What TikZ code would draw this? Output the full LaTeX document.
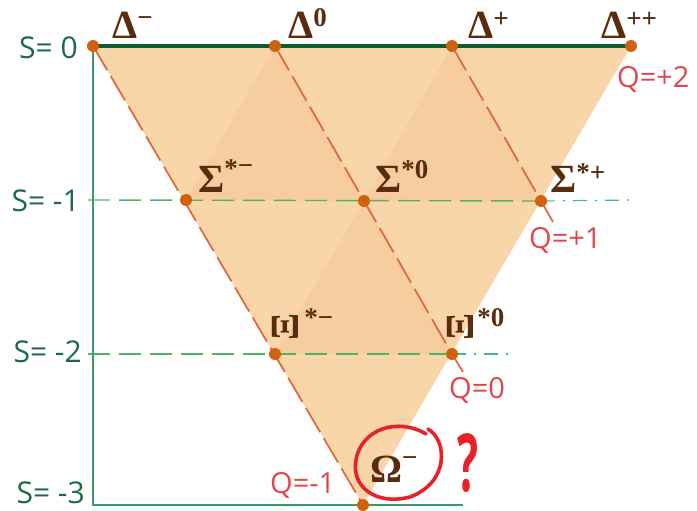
\documentclass[tikz,border=0pt]{standalone}
\usepackage{fontspec}
\setmainfont{Open Sans}
\newfontfamily\grkfont{Liberation Serif}
\usetikzlibrary{backgrounds}
\definecolor{fillA}{HTML}{F8D6A9}
\definecolor{fillB}{HTML}{F5CD9E}
\definecolor{dotc}{HTML}{D1600F}
\definecolor{qlinec}{HTML}{E06A3E}
\definecolor{brownc}{HTML}{5A2B0C}
\definecolor{qred}{HTML}{E0464C}
\definecolor{sgreenD}{HTML}{1D6A45}
\definecolor{topg}{HTML}{0D5E2F}
\definecolor{axisg}{HTML}{3A9C68}
\definecolor{dashg}{HTML}{55B06E}
\definecolor{tealg}{HTML}{45B59A}
\definecolor{circred}{HTML}{E62129}
\newcommand\hsup[2]{\raisebox{#1}{\fontsize{27}{27}\selectfont #2}}
\newcommand\rotXi{{\fontsize{40}{40}\selectfont\rotatebox{90}{Ξ}}}
\begin{document}
\begin{tikzpicture}[x=1pt,y=-1pt,
  pdot/.style={circle, fill=dotc, inner sep=0pt, minimum size=12pt},
  qline/.style={draw=qlinec, line width=1.8pt, dash pattern=on 28pt off 7pt},
  sline/.style={draw=dashg, line width=1.4pt, dash pattern=on 22pt off 9pt},
  tline/.style={draw=tealg, line width=1.2pt, dash pattern=on 14pt off 8pt on 2pt off 8pt},
  axisline/.style={draw=axisg, line width=1.4pt},
  topline/.style={draw=topg, line width=4.5pt},
  glabel/.style={font=\grkfont\bfseries\fontsize{40}{40}\selectfont, text=brownc, anchor=base west, inner sep=0pt},
  slabel/.style={font=\fontsize{30}{30}\selectfont, text=sgreenD, anchor=east, inner sep=0pt},
  qlabel/.style={font=\fontsize{29}{29}\selectfont, text=qred, anchor=west, inner sep=0pt}]
\path[use as bounding box] (0,0) rectangle (697,511);
% particle dots
\node[pdot] (Dm)  at (93,46) {};
\node[pdot] (D0)  at (275,46) {};
\node[pdot] (Dp)  at (452,46) {};
\node[pdot] (Dpp) at (631,46) {};
\node[pdot] (Sm)  at (186,200) {};
\node[pdot] (S0)  at (364,201) {};
\node[pdot] (Sp)  at (541,201) {};
\node[pdot] (Xm)  at (275,354) {};
\node[pdot] (X0)  at (452,354) {};
\node[pdot] (Om)  at (363,505) {};
% free ends
\coordinate (s1a) at (88,200);
\coordinate (s1b) at (635,200);
\coordinate (s2a) at (88,354);
\coordinate (s2b) at (515,354);
\coordinate (ax) at (93,505);
\coordinate (s3b) at (463,505);
\coordinate (q0e) at (463,372);
\coordinate (q1e) at (553,222);
\begin{scope}[on background layer]
  \fill[fillA] (Dm.center) -- (Dpp.center) -- (Om.center) -- cycle;
  \fill[fillB] (D0.center) -- (S0.center) -- (Sm.center) -- cycle;
  \fill[fillB] (Dp.center) -- (Sp.center) -- (S0.center) -- cycle;
  \fill[fillB] (S0.center) -- (X0.center) -- (Xm.center) -- cycle;
  \draw[sline] (s1a) -- (Sp.center);
  \draw[tline] (Sp.center) -- (s1b);
  \draw[sline] (s2a) -- (X0.center);
  \draw[tline] (X0.center) -- (s2b);
  \draw[axisline] (Dm.center) -- (ax) -- (s3b);
  \draw[topline] (Dm.center) -- (Dpp.center);
  \draw[qline] (Dm.center) -- (Om.center);
  \draw[qline] (D0.center) -- (X0.center) -- (q0e);
  \draw[qline] (Dp.center) -- (Sp.center) -- (q1e);
\end{scope}
% particle labels
\node[glabel] (lDm)  at (112,39) {Δ\hsup{12pt}{−}};
\node[glabel] (lD0)  at (288,39) {Δ\hsup{12pt}{0}};
\node[glabel] (lDp)  at (468,39) {Δ\hsup{11pt}{+}};
\node[glabel] (lDpp) at (601,39) {Δ\hsup{11pt}{++}};
\node[glabel] (lSm)  at (198,192) {Σ\hsup{14pt}{*\raisebox{4pt}{−}}};
\node[glabel] (lS0)  at (375,193) {Σ\hsup{14pt}{*0}};
\node[glabel] (lSp)  at (550,193) {Σ\hsup{12pt}{*+}};
\node[glabel] (lXm)  at (272,340) {\rotXi\hspace{6pt}\hsup{14pt}{*−}};
\node[glabel] (lX0)  at (447,340) {\rotXi\hspace{4pt}\hsup{14pt}{*0}};
\node[glabel] (lOm)  at (370,482) {Ω\hsup{16pt}{−}};
% strangeness labels
\node[slabel] (lS0s) at (78,48) {S= 0};
\node[slabel] (lS1s) at (80,201) {S= -1};
\node[slabel] (lS2s) at (82,352) {S= -2};
\node[slabel] (lS3s) at (85,493) {S= -3};
% charge labels
\node[qlabel] (lQ2) at (617,79) {Q=+2};
\node[qlabel] (lQ1) at (529,240) {Q=+1};
\node[qlabel] (lQ0) at (449,390) {Q=0};
\node[qlabel] (lQm) at (270,485) {Q=-1};
% circle around Omega and question mark
\draw[circred, line width=3.6pt, line cap=round]
  (428,429) .. controls (447,440) and (450,482) .. (410,497)
  .. controls (375,506) and (351,486) .. (356,460)
  .. controls (361,429) and (398,417) .. (426,434);
\node[text=circred, font=\bfseries\fontsize{80}{80}\selectfont, inner sep=0pt] (qm) at (468,463) {\scalebox{0.55}[1]{?}};
\end{tikzpicture}
\end{document}
